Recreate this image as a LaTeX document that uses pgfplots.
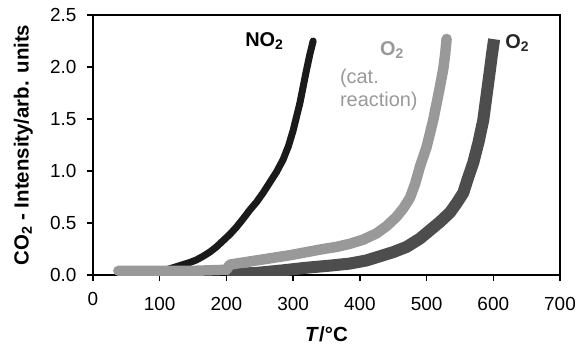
\documentclass[border=0pt]{standalone}
\usepackage{pgfplots}
\pgfplotsset{compat=1.18}
\usepackage{fontspec}
\setmainfont{Liberation Sans}
\definecolor{cno}{HTML}{1A1A1A}
\definecolor{ccat}{HTML}{999999}
\definecolor{coo}{HTML}{4D4D4D}
\begin{document}
\begin{tikzpicture}
\begin{axis}[
  at={(0,0)}, anchor=south west,
  scale only axis, width=467bp, height=260bp,
  xmin=0, xmax=700, ymin=0, ymax=2.5,
  axis line style={line width=2.5bp},
  xtick={100,200,...,700},
  extra x ticks={0},
  extra x tick style={xticklabel style={yshift=5bp}},
  ytick={0,0.5,...,2.5},
  tick align=outside, tick pos=left,
  major tick length=6bp,
  every tick/.style={black, line width=1.3bp},
  /pgf/number format/assume math mode=true,
  yticklabel style={/pgf/number format/fixed, /pgf/number format/fixed zerofill, /pgf/number format/precision=1, xshift=-7bp},
  ticklabel style={font=\fontsize{19}{22}\selectfont},
  xticklabel style={yshift=-13bp},
  xlabel={\textbf{\textit{T}/°C}},
  ylabel={\textbf{CO$_\mathbf{2}$ - Intensity/arb. units}},
  label style={font=\fontsize{20.5}{24}\selectfont},
  xlabel style={at={(axis description cs:0.5,-0.227)}, anchor=center},
  ylabel style={at={(axis description cs:-0.149,0.5)}, anchor=center},
]
\addplot[cno, line width=7bp, line join=round, line cap=round] coordinates {
(110,0.05) (125,0.08) (135,0.10)
(145,0.12) (155,0.145) (165,0.18) (175,0.22) (185,0.27) (195,0.33) (205,0.39)
(215,0.46) (225,0.54) (235,0.625) (245,0.70) (255,0.79) (265,0.89) (275,0.99)
(285,1.11) (293,1.24) (300,1.39) (305,1.52) (310,1.65) (315,1.81) (320,1.97)
(325,2.12) (330,2.25)
};
\addplot[coo, line width=12bp, line join=round, line cap=rect] coordinates {
(210,0.01) (245,0.02) (285,0.045) (320,0.07) (355,0.09) (385,0.11) (410,0.14)
(430,0.18) (450,0.22) (470,0.27) (490,0.35) (505,0.43) (520,0.51) (535,0.60)
(545,0.69) (555,0.79) (562,0.93) (570,1.08) (578,1.28) (585,1.49) (590,1.73)
(595,1.97) (598,2.12) (600,2.21)
};
\addplot[ccat, line width=10.5bp, line join=round, line cap=round] coordinates {
(38,0.04) (60,0.04) (100,0.04) (150,0.04) (200,0.05) (205,0.10) (225,0.12)
(245,0.14) (270,0.165) (295,0.19) (320,0.22) (345,0.25) (365,0.27) (385,0.30)
(405,0.34) (425,0.40) (440,0.47) (455,0.56) (465,0.64) (475,0.74) (483,0.88)
(490,1.04) (500,1.23) (505,1.36) (510,1.49) (515,1.65) (520,1.81) (525,1.98)
(528,2.13) (530,2.27)
};
\node[anchor=base west, inner sep=0pt, font=\fontsize{20}{24}\selectfont\bfseries, text=black] at (axis cs:228,2.195) {NO$_\mathbf{2}$};
\node[anchor=base west, inner sep=0pt, font=\fontsize{20}{24}\selectfont\bfseries, text=ccat] at (axis cs:430,2.115) {O$_\mathbf{2}$};
\node[anchor=base west, inner sep=0pt, font=\fontsize{20}{24}\selectfont, text=ccat] at (axis cs:370,1.843) {(cat.};
\node[anchor=base west, inner sep=0pt, font=\fontsize{20}{24}\selectfont, text=ccat] at (axis cs:370,1.62) {reaction)};
\node[anchor=base west, inner sep=0pt, font=\fontsize{20}{24}\selectfont\bfseries, text=black!85] at (axis cs:618,2.18) {O$_\mathbf{2}$};
\end{axis}
\pgfresetboundingbox
\path[use as bounding box] (-93bp,-69bp) rectangle (486bp,275bp);
\end{tikzpicture}
\end{document}
